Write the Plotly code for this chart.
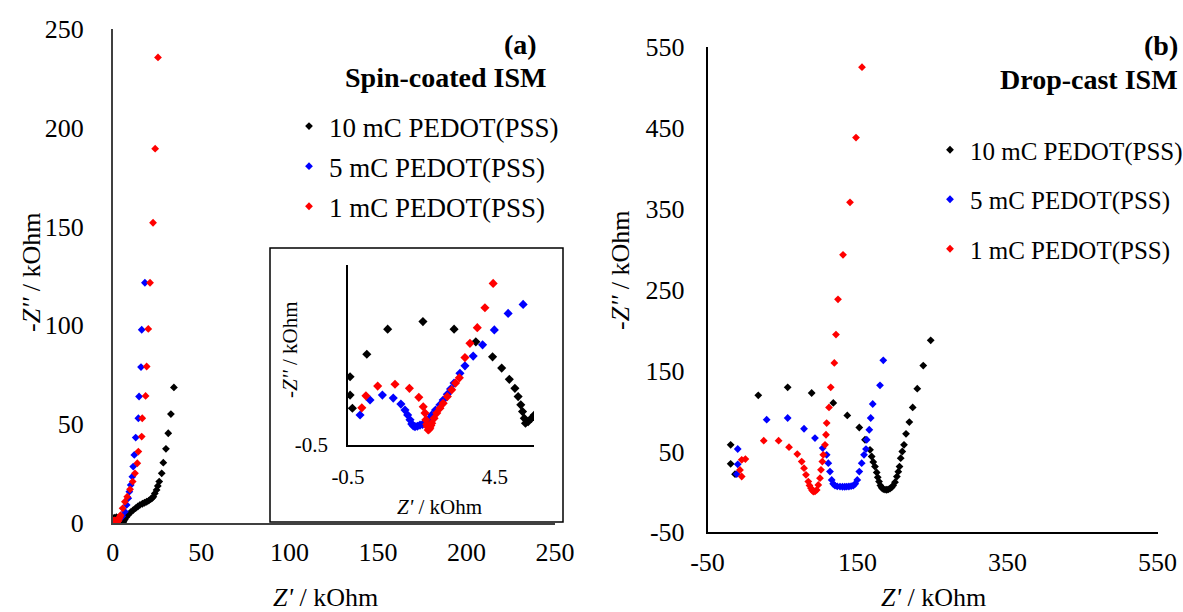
import plotly.graph_objects as go

W, H = 1183, 612

# ---------------- data: panel (a) spin-coated ISM ----------------
spin_10_re = [-0.43, -0.43, -0.35, 0.14, 0.85, 2.05, 3.11, 3.85, 4.42, 4.73, 4.99, 5.18, 5.29, 5.38, 5.44,
              5.5, 5.54, 5.63, 5.74, 5.84,
              6.2, 6.8, 7.9, 9.0, 10.2, 11.6, 13.0, 14.2, 15.4, 16.8, 18.0, 19.2, 20.4, 21.5, 22.3, 23.0,
              23.8, 24.8, 25.5, 26.3, 27.7, 28.6, 30.1, 31.4, 32.9, 34.6]
spin_10_im = [1.32, 0.83, 0.48, 1.92, 2.59, 2.79, 2.59, 2.25, 1.85, 1.55, 1.25, 1.01, 0.79, 0.57, 0.39,
              0.21, 0.08, 0.12, 0.21, 0.3,
              0.8, 1.6, 3.0, 4.2, 5.4, 6.4, 7.4, 8.2, 9.0, 9.6, 10.1, 10.6, 11.2, 11.9, 12.5, 13.2,
              14.8, 16.6, 18.6, 20.8, 25.0, 30.4, 37.4, 45.3, 55.0, 68.5]

spin_5_re = [-0.09, 0.25, 0.67, 1.04, 1.3, 1.44, 1.53, 1.61, 1.67, 1.72, 1.78, 1.86, 1.95, 2.04, 2.12,
             2.23, 2.35, 2.48, 2.63, 2.74, 2.88, 2.99, 3.11, 3.31, 3.48, 3.76, 4.08, 4.48, 4.95, 5.46,
             6.9, 7.9, 8.8, 9.4, 10.2, 11.1, 11.6, 12.2, 13.0, 14.5, 14.9, 16.0, 16.4, 18.2]
spin_5_im = [0.3, 0.7, 0.83, 0.75, 0.59, 0.43, 0.3, 0.17, 0.06, 0.01, -0.01, 0.0, 0.03, 0.05, 0.08,
             0.17, 0.3, 0.43, 0.57, 0.7, 0.85, 0.99, 1.15, 1.41, 1.61, 1.87, 2.17, 2.57, 3.01, 3.25,
             5.6, 9.0, 12.4, 15.7, 19.1, 23.3, 28.4, 34.3, 43.1, 52.9, 63.9, 78.8, 97.7, 121.5]

spin_1_re = [-0.03, 0.11, 0.51, 1.1, 1.59, 1.91, 2.06, 2.12, 2.15, 2.18, 2.2, 2.23, 2.26, 2.29, 2.32,
             2.35, 2.43, 2.52, 2.63, 2.74, 2.88, 3.03, 3.16, 3.29, 3.48, 3.65, 3.9, 4.16, 4.44,
             5.6, 6.9, 8.2, 9.8, 11.3, 12.6, 13.9, 14.5, 16.4, 16.7, 18.6, 19.2, 20.1, 21.1, 22.8, 24.0, 25.6]
spin_1_im = [0.49, 0.81, 1.07, 1.12, 1.01, 0.77, 0.52, 0.35, 0.17, 0.05, -0.01, -0.1, -0.08, -0.05, 0.02,
             0.08, 0.21, 0.35, 0.48, 0.61, 0.79, 0.97, 1.15, 1.29, 1.83, 2.21, 2.63, 3.16, 3.81,
             7.3, 10.6, 13.2, 16.9, 20.8, 25.0, 30.1, 36.0, 43.6, 52.9, 64.2, 79.1, 98.1, 121.5, 151.9, 189.4, 235.6]

# ---------------- data: panel (b) drop-cast ISM ----------------
drop_10_re = [-19.1, -19.1, -13.3, 17.7, 56.9, 88.9, 117.7, 136.4, 152.4, 160.0, 166.7, 168.9, 171.0, 173.3,
              175.6, 177.0, 178.7, 180.5, 182.3, 184.4, 186.7, 189.0, 191.0, 193.3, 195.5, 197.5, 200.0,
              202.5, 204.4, 206.0, 207.6, 209.7, 212.0, 214.7, 219.1, 223.6, 229.7, 237.7, 247.6]
drop_10_im = [58.2, 34.6, 21.9, 119.3, 129.2, 122.2, 109.9, 94.5, 79.6, 64.4, 52.0, 43.7, 37.0, 31.3,
              24.0, 18.0, 12.7, 8.0, 5.0, 3.5, 2.8, 2.6, 3.0, 4.0, 5.5, 8.0, 12.0,
              18.9, 25.0, 31.3, 41.7, 49.9, 58.2, 71.8, 86.3, 104.4, 127.6, 156.1, 187.4]

drop_5_re = [-9.7, -9.7, -11.0, 28.9, 56.9, 78.7, 93.3, 103.6, 108.9, 111.1, 113.3, 115.6, 117.5, 120.0,
             123.0, 126.7, 130.0, 133.0, 135.6, 138.5, 141.5, 144.4, 147.0, 149.7, 152.4, 155.6, 158.7,
             161.3, 162.3, 165.7, 167.6, 170.3, 180.0, 184.4]
drop_5_im = [53.0, 34.0, 22.0, 89.2, 91.3, 78.0, 66.5, 54.1, 45.8, 35.5, 25.1, 14.8, 10.0, 7.7,
             6.8, 6.5, 6.3, 6.3, 6.5, 6.6, 7.0, 7.7, 10.0, 14.8, 25.1, 35.5, 45.8,
             52.9, 64.4, 76.8, 91.3, 108.6, 131.7, 162.6]

drop_1_re = [-4.4, 0.5, -6.7, -4.4, 25.0, 44.8, 58.7, 69.7, 75.6, 78.7, 81.3, 84.4, 86.0, 88.0, 89.5,
             91.1, 93.3, 95.6, 97.7, 100.0, 101.3, 103.1, 104.4, 106.7, 108.0, 108.9, 112.0, 114.3,
             119.1, 121.3, 124.0, 130.7, 140.0, 148.0, 156.0]
drop_1_im = [39.6, 40.5, 27.0, 19.0, 63.3, 63.3, 55.3, 46.7, 37.5, 29.3, 21.0, 12.7, 8.0, 4.5, 2.0,
             0.3, 0.5, 2.4, 8.6, 16.9, 27.2, 37.5, 45.8, 58.2, 70.6, 85.1, 104.4, 129.2,
             159.4, 194.5, 238.0, 293.0, 358.0, 438.0, 525.0]

series_names = ["10 mC PEDOT(PSS)", "5 mC PEDOT(PSS)", "1 mC PEDOT(PSS)"]
series_colors = ["#000000", "#0000FF", "#FF0000"]

# tick labels
a_ticks = [0, 50, 100, 150, 200, 250]
a_ticktext = ["0", "50", "100", "150", "200", "250"]
b_ticks = [-50, 150, 350, 550]
b_ticktext = ["-50", "150", "350", "550"]
b_yticks = [-50, 50, 150, 250, 350, 450, 550]
b_yticktext = ["-50", "50", "150", "250", "350", "450", "550"]
in_xticks = [-0.5, 4.5]
in_xticktext = ["-0.5", "4.5"]
in_yticks = [-0.5]
in_yticktext = ["-0.5"]

FONT = "Liberation Serif, Times New Roman, serif"


def px_x(p):
    return p / W


def px_y(p):
    return 1 - p / H


fig = go.Figure()

spin = [(spin_10_re, spin_10_im), (spin_5_re, spin_5_im), (spin_1_re, spin_1_im)]
drop = [(drop_10_re, drop_10_im), (drop_5_re, drop_5_im), (drop_1_re, drop_1_im)]

for i, (xr, yi) in enumerate(spin):
    fig.add_trace(go.Scatter(x=xr, y=yi, mode="markers", name=series_names[i],
                             marker=dict(symbol="diamond", size=6, color=series_colors[i]),
                             xaxis="x", yaxis="y", legend="legend", legendgroup="a%d" % i))
for i, (xr, yi) in enumerate(spin):
    fig.add_trace(go.Scatter(x=xr, y=yi, mode="markers", name=series_names[i], showlegend=False,
                             marker=dict(symbol="diamond", size=7, color=series_colors[i]),
                             xaxis="x3", yaxis="y3"))
for i, (xr, yi) in enumerate(drop):
    fig.add_trace(go.Scatter(x=xr, y=yi, mode="markers", name=series_names[i],
                             marker=dict(symbol="diamond", size=6, color=series_colors[i]),
                             xaxis="x2", yaxis="y2", legend="legend2", legendgroup="b%d" % i))

ax_common = dict(showgrid=False, zeroline=False, showline=True, ticks="", automargin=False,
                 tickfont=dict(family=FONT, size=26, color="black"), tickmode="array")
in_common = dict(showgrid=False, zeroline=False, showline=True, ticks="", automargin=False,
                 tickfont=dict(family=FONT, size=21, color="black"), tickmode="array",
                 linecolor="black", linewidth=1.5)

fig.update_layout(
    width=W, height=H,
    margin=dict(l=0, r=0, t=0, b=0, pad=0, autoexpand=False),
    paper_bgcolor="white", plot_bgcolor="rgba(0,0,0,0)",
    font=dict(family=FONT, color="black"),
    xaxis=dict(domain=[px_x(112.7), px_x(555)], range=[0, 250], anchor="y",
               tickvals=a_ticks, ticktext=a_ticktext, linecolor="#404040", linewidth=1.5,
               ticklabelstandoff=5, **ax_common),
    yaxis=dict(domain=[px_y(522.7), px_y(29)], range=[0, 250], anchor="x",
               tickvals=a_ticks, ticktext=a_ticktext, linecolor="#404040", linewidth=1.5,
               ticklabelstandoff=22, **ax_common),
    xaxis2=dict(domain=[px_x(707.5), px_x(1157.5)], range=[-50, 550], anchor="y2",
                tickvals=b_ticks, ticktext=b_ticktext, linecolor="black", linewidth=1.5,
                ticklabelstandoff=6, **ax_common),
    yaxis2=dict(domain=[px_y(532.3), px_y(47)], range=[-50, 550], anchor="x2",
                tickvals=b_yticks, ticktext=b_yticktext, linecolor="black", linewidth=1.5,
                ticklabelstandoff=16, **ax_common),
    xaxis3=dict(domain=[px_x(348), px_x(534)], range=[-0.5, 5.83], anchor="y3",
                tickvals=in_xticks, ticktext=in_xticktext, ticklabelstandoff=12, **in_common),
    yaxis3=dict(domain=[px_y(445), px_y(265)], range=[-0.5, 4.3], anchor="x3",
                tickvals=in_yticks, ticktext=in_yticktext, ticklabelstandoff=14, **in_common),
    legend=dict(x=px_x(289), y=px_y(102), xanchor="left", yanchor="top",
                font=dict(family=FONT, size=27, color="black"), bgcolor="rgba(0,0,0,0)",
                tracegroupgap=2, traceorder="grouped"),
    legend2=dict(x=px_x(930), y=px_y(127), xanchor="left", yanchor="top",
                 font=dict(family=FONT, size=25, color="black"), bgcolor="rgba(0,0,0,0)",
                 tracegroupgap=14, traceorder="grouped"),
    shapes=[dict(type="rect", xref="paper", yref="paper",
                 x0=px_x(270), x1=px_x(563), y0=px_y(522), y1=px_y(248),
                 line=dict(color="black", width=1.5), fillcolor="rgba(0,0,0,0)")],
)

annots = [
    dict(text="(a)", x=px_x(539), y=px_y(45), xanchor="right",
         font=dict(size=28, family=FONT), bold=True),
    dict(text="Spin-coated ISM", x=px_x(548), y=px_y(77), xanchor="right",
         font=dict(size=28, family=FONT), bold=True),
    dict(text="(b)", x=px_x(1180), y=px_y(46), xanchor="right",
         font=dict(size=28, family=FONT), bold=True),
    dict(text="Drop-cast ISM", x=px_x(1180), y=px_y(80), xanchor="right",
         font=dict(size=28, family=FONT), bold=True),
    dict(text="-<i>Z''</i> / kOhm", x=px_x(31), y=px_y(272), textangle=-90,
         font=dict(size=26, family=FONT)),
    dict(text="<i>Z'</i> / kOhm", x=px_x(325), y=px_y(597), font=dict(size=26, family=FONT)),
    dict(text="-<i>Z''</i> / kOhm", x=px_x(620), y=px_y(270), textangle=-90,
         font=dict(size=26, family=FONT)),
    dict(text="<i>Z'</i> / kOhm", x=px_x(933), y=px_y(597), font=dict(size=26, family=FONT)),
    dict(text="<i>Z'</i> / kOhm", x=px_x(440), y=px_y(507), font=dict(size=21, family=FONT)),
    dict(text="-<i>Z''</i> / kOhm", x=px_x(290), y=px_y(350), textangle=-90,
         font=dict(size=21, family=FONT)),
]
for a in annots:
    bold = a.pop("bold", False)
    if bold:
        a["text"] = "<b>" + a["text"] + "</b>"
    a.setdefault("xanchor", "center")
    a.setdefault("yanchor", "middle")
    a.update(xref="paper", yref="paper", showarrow=False)
    a["font"]["color"] = "black"
    fig.add_annotation(**a)

fig.write_html("out.html")
